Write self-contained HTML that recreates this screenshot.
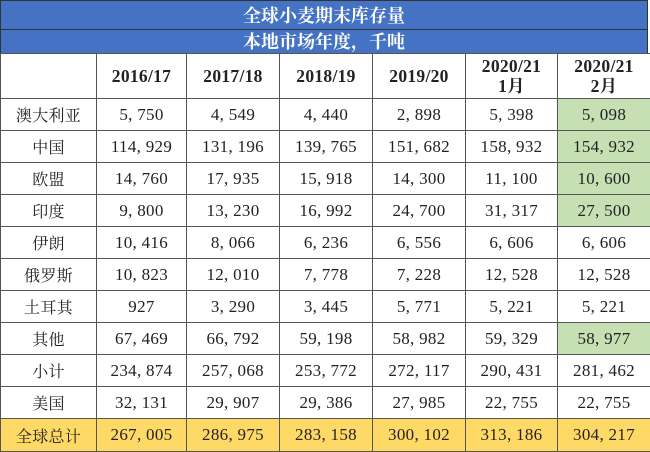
<!DOCTYPE html>
<html><head><meta charset="utf-8"><style>
body{margin:0;width:650px;height:451px;background:#fff;overflow:hidden;font-family:"Liberation Serif","Noto Serif CJK SC",serif;}
.t{position:absolute;left:0;width:648px;background:#4472C4;color:#fff;font-weight:bold;font-size:18px;text-align:center;border:1px solid #333;box-sizing:border-box;font-family:"Noto Serif CJK SC",serif}
table{position:absolute;left:0;top:53px;border-collapse:collapse;width:650px;table-layout:fixed}
td{border:1px solid #555;text-align:center;font-size:17px;color:#222;padding:0;height:31px;white-space:nowrap;letter-spacing:0.3px}
td:first-child{font-family:"Noto Serif CJK SC",serif;font-size:16px}
tr.h td{height:44px;font-weight:bold;line-height:20px;font-size:17.5px}
.g{background:#C6E0B4}
tr.y td{background:#FFD966;height:32px}
</style></head><body>
<div class="t" style="top:0;height:30px;line-height:28px">全球小麦期末库存量</div>
<div class="t" style="top:29px;height:25px;line-height:23px">本地市场年度，千吨</div>
<table>
<colgroup><col style="width:96px"><col style="width:90px"><col style="width:93px"><col style="width:93px"><col style="width:93px"><col style="width:92px"><col style="width:93px"></colgroup>
<tr class="h"><td></td><td>2016/17</td><td>2017/18</td><td>2018/19</td><td>2019/20</td><td>2020/21<br>1月</td><td>2020/21<br>2月</td></tr>
<tr><td>澳大利亚</td><td>5, 750</td><td>4, 549</td><td>4, 440</td><td>2, 898</td><td>5, 398</td><td class="g">5, 098</td></tr>
<tr><td>中国</td><td>114, 929</td><td>131, 196</td><td>139, 765</td><td>151, 682</td><td>158, 932</td><td class="g">154, 932</td></tr>
<tr><td>欧盟</td><td>14, 760</td><td>17, 935</td><td>15, 918</td><td>14, 300</td><td>11, 100</td><td class="g">10, 600</td></tr>
<tr><td>印度</td><td>9, 800</td><td>13, 230</td><td>16, 992</td><td>24, 700</td><td>31, 317</td><td class="g">27, 500</td></tr>
<tr><td>伊朗</td><td>10, 416</td><td>8, 066</td><td>6, 236</td><td>6, 556</td><td>6, 606</td><td>6, 606</td></tr>
<tr><td>俄罗斯</td><td>10, 823</td><td>12, 010</td><td>7, 778</td><td>7, 228</td><td>12, 528</td><td>12, 528</td></tr>
<tr><td>土耳其</td><td>927</td><td>3, 290</td><td>3, 445</td><td>5, 771</td><td>5, 221</td><td>5, 221</td></tr>
<tr><td>其他</td><td>67, 469</td><td>66, 792</td><td>59, 198</td><td>58, 982</td><td>59, 329</td><td class="g">58, 977</td></tr>
<tr><td>小计</td><td>234, 874</td><td>257, 068</td><td>253, 772</td><td>272, 117</td><td>290, 431</td><td>281, 462</td></tr>
<tr><td>美国</td><td>32, 131</td><td>29, 907</td><td>29, 386</td><td>27, 985</td><td>22, 755</td><td>22, 755</td></tr>
<tr class="y"><td>全球总计</td><td>267, 005</td><td>286, 975</td><td>283, 158</td><td>300, 102</td><td>313, 186</td><td>304, 217</td></tr>
</table>
</body></html>
